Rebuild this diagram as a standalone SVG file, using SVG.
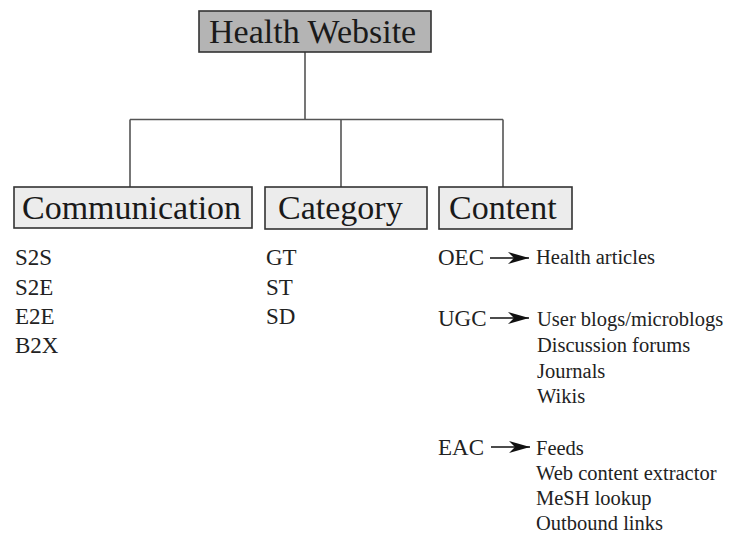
<svg xmlns="http://www.w3.org/2000/svg" width="729" height="534" viewBox="0 0 729 534">
<defs>
<style>
.bg{fill:#ffffff}
.root{fill:#b4b4b4;stroke:#333;stroke-width:1.6}
.box{fill:#ececec;stroke:#333;stroke-width:1.6}
.conn{stroke:#555;stroke-width:1.6;fill:none}
.arr{stroke:#111;stroke-width:1.4;fill:none}
.h{font-family:"Liberation Serif","Times New Roman",serif;font-size:34px;fill:#1a1a1a}
.l{font-family:"Liberation Serif","Times New Roman",serif;font-size:23px;fill:#222}
.s{font-family:"Liberation Serif","Times New Roman",serif;font-size:20.5px;fill:#222}
</style>
<marker id="ah" viewBox="-24 -7 25 14" refX="0" refY="0" markerWidth="25" markerHeight="14" markerUnits="userSpaceOnUse" orient="auto">
<path d="M0,0 L-21,-6 L-15,0 L-21,6 Z" fill="#111"/>
</marker>
</defs>
<rect class="bg" x="0" y="0" width="729" height="534"/>
<g id="connectors">
<path class="conn" d="M305,52 V119.5 M130,119.5 H503 M130,119.5 V187 M341,119.5 V187 M503,119.5 V187"/>
<path class="arr" d="M490,258 H529" marker-end="url(#ah)"/>
<path class="arr" d="M490,318 H529" marker-end="url(#ah)"/>
<path class="arr" d="M491,447 H530" marker-end="url(#ah)"/>
</g>
<g id="health-website">
<rect class="root" x="199" y="11" width="232" height="41"/>
<text class="h" x="209" y="43">Health Website</text>
</g>
<g id="communication">
<rect class="box" x="14" y="187" width="238" height="41"/>
<text class="h" x="22" y="219">Communication</text>
<text class="l" x="15" y="265">S2S</text>
<text class="l" x="15" y="295">S2E</text>
<text class="l" x="15" y="324">E2E</text>
<text class="l" x="15" y="353">B2X</text>
</g>
<g id="category">
<rect class="box" x="265" y="187" width="162" height="42"/>
<text class="h" x="278" y="219">Category</text>
<text class="l" x="266" y="265">GT</text>
<text class="l" x="266" y="295">ST</text>
<text class="l" x="266" y="324">SD</text>
</g>
<g id="content">
<rect class="box" x="439" y="187" width="133" height="42"/>
<text class="h" x="449" y="219">Content</text>
<text class="l" x="438" y="265">OEC</text>
<text class="s" x="536" y="264">Health articles</text>
<text class="l" x="438" y="326">UGC</text>
<text class="s" x="537" y="326">User blogs/microblogs</text>
<text class="s" x="537" y="352">Discussion forums</text>
<text class="s" x="537" y="378">Journals</text>
<text class="s" x="537" y="403">Wikis</text>
<text class="l" x="438" y="455">EAC</text>
<text class="s" x="536" y="455">Feeds</text>
<text class="s" x="536" y="480">Web content extractor</text>
<text class="s" x="536" y="505">MeSH lookup</text>
<text class="s" x="536" y="530">Outbound links</text>
</g>
</svg>
